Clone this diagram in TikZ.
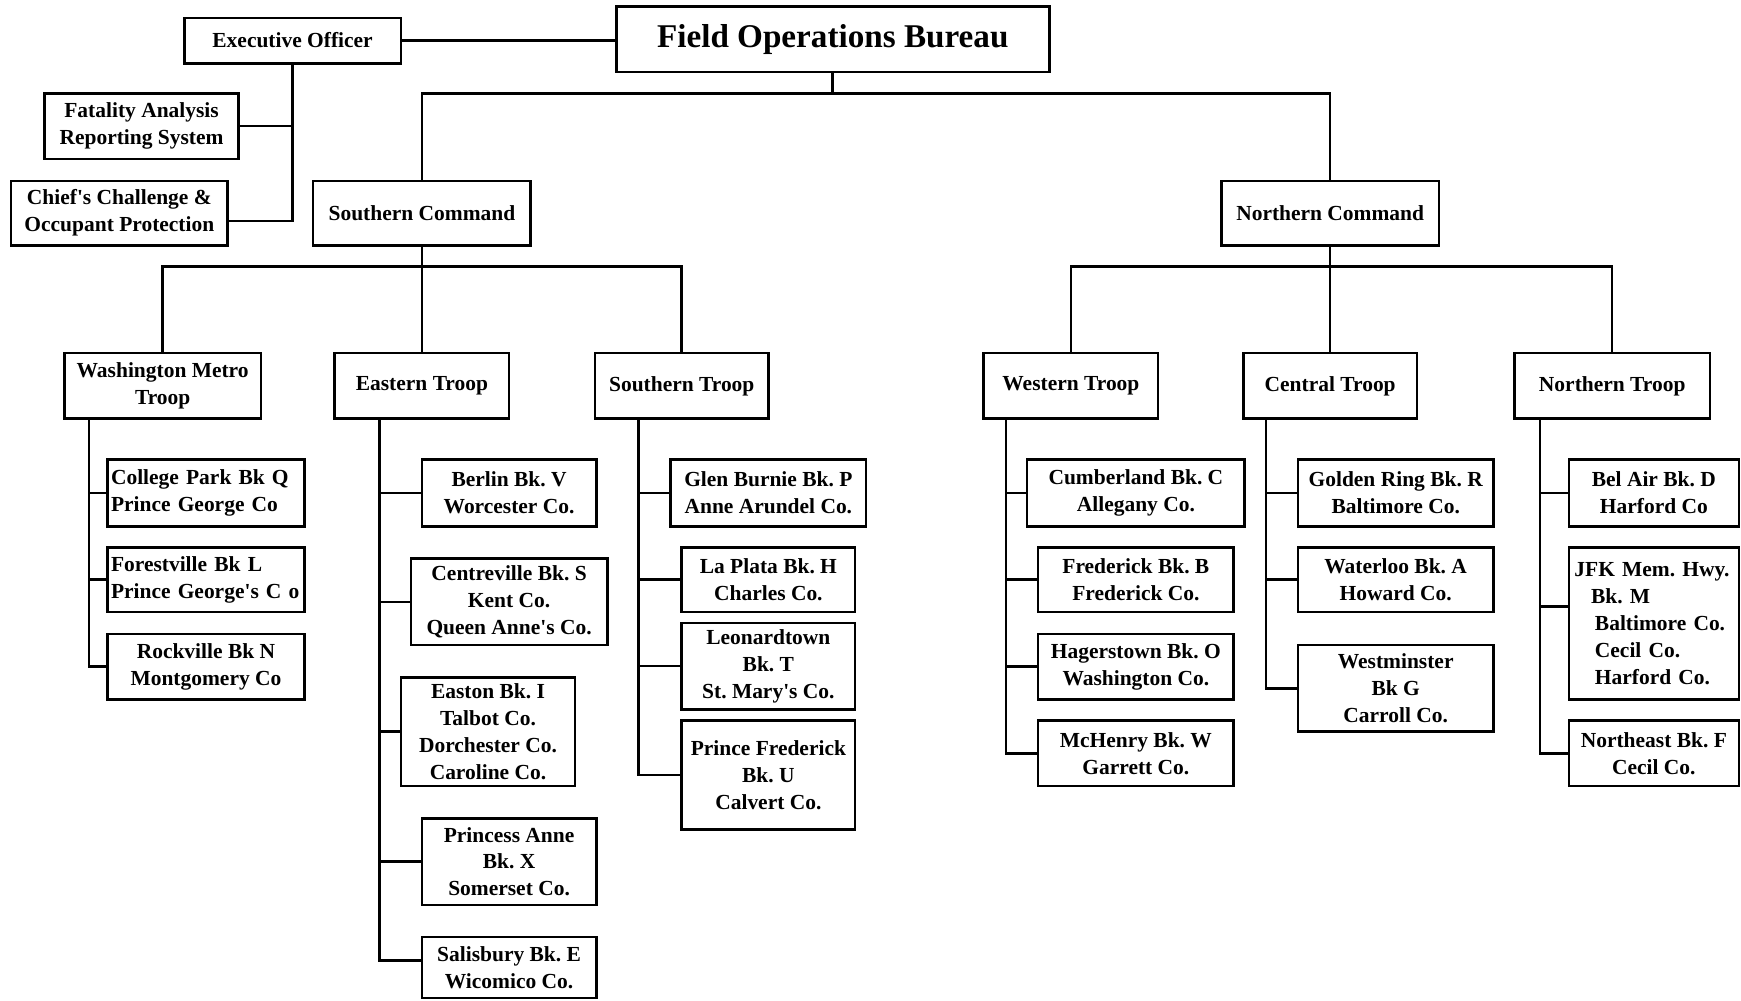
\documentclass[tikz,border=0pt]{standalone}
\usepackage{fontspec}
\setmainfont{Liberation Serif}
\usepackage{tikz}

\begin{document}
\frenchspacing
\begin{tikzpicture}[x=0.2mm,y=-0.2mm,
	unit/.style={draw,line width=1.3pt,align=center,inner xsep=1mm,inner ysep=0pt,
		font=\bfseries\fontsize{11}{13.8}\selectfont},
	two/.style={minimum height=11.8mm},
	three/.style={minimum height=15.6mm},
	four/.style={minimum height=19.6mm},
	link/.style={line width=1.3pt}]
\useasboundingbox (0,0) rectangle (1568,901.5);
%
\node[unit,minimum width=78mm,minimum height=11.8mm,font=\bfseries\fontsize{17}{20}\selectfont] (fob) at (750,35.5) {Field Operations Bureau};
\node[unit,minimum width=39mm,minimum height=8.2mm] (eo) at (263.5,36.5) {Executive Officer};
\node[unit,two,minimum width=35mm] (fars) at (127.5,113.5) {Fatality Analysis\\Reporting System};
\node[unit,minimum width=39mm,minimum height=11.6mm] (ccop) at (107.5,192) {Chief\textquotesingle s Challenge \&\\Occupant Protection};
\node[unit,minimum width=39.2mm,minimum height=11.6mm] (sc) at (380,192) {Southern Command};
\node[unit,minimum width=39.2mm,minimum height=11.6mm] (nc) at (1198,192) {Northern Command};
%
\node[unit,two,minimum width=35.4mm] (wm) at (146.5,347.5) {Washington Metro\\Troop};
\node[unit,two,minimum width=31.4mm] (et) at (380,347.5) {Eastern Troop};
\node[unit,two,minimum width=31.2mm] (st) at (614,347.5) {Southern Troop};
\node[unit,two,minimum width=31.4mm] (wt) at (964.5,347.5) {Western Troop};
\node[unit,two,minimum width=31.2mm] (ct) at (1198,347.5) {Central Troop};
\node[unit,two,minimum width=35.2mm] (nt) at (1452,347.5) {Northern Troop};
%
\node[unit,minimum height=12mm,inner xsep=0.6mm,text width=34.2mm,align=left] (cp) at (185.5,444) {College Park Bk Q\\Prince George Co};
\node[unit,minimum height=11.6mm,inner xsep=0.6mm,text width=34.2mm,align=left] (fv) at (185.5,522) {Forestville Bk L\\Prince George\textquotesingle s C o};
\node[unit,two,minimum width=35.4mm] (rv) at (185.5,600.5) {Rockville Bk N\\Montgomery Co};
%
\node[unit,minimum height=12mm,minimum width=31.4mm] (bln) at (458.5,444) {Berlin Bk. V\\Worcester Co.};
\node[unit,three,minimum width=35.4mm] (cen) at (458.5,542) {Centreville Bk. S\\Kent Co.\\Queen Anne\textquotesingle s Co.};
\node[unit,four,minimum width=31.4mm] (eas) at (439.5,659) {Easton Bk. I\\Talbot Co.\\Dorchester Co.\\Caroline Co.};
\node[unit,three,minimum width=31.4mm] (pan) at (458.5,776) {Princess Anne\\Bk. X\\Somerset Co.};
\node[unit,minimum height=11mm,minimum width=31.4mm] (sal) at (458.5,871.5) {Salisbury Bk. E\\Wicomico Co.};
%
\node[unit,minimum height=12mm,minimum width=35.2mm] (gb) at (692,444) {Glen Burnie Bk. P\\Anne Arundel Co.};
\node[unit,minimum height=11.6mm,minimum width=31.2mm] (lp) at (692,522) {La Plata Bk. H\\Charles Co.};
\node[unit,three,minimum width=31.2mm] (lt) at (692,600) {Leonardtown\\Bk. T\\St. Mary\textquotesingle s Co.};
\node[unit,four,minimum width=31.2mm] (pf) at (692,698) {Prince Frederick\\Bk. U\\Calvert Co.};
%
\node[unit,minimum height=12mm,minimum width=39.2mm] (cum) at (1023,444) {Cumberland Bk. C\\Allegany Co.};
\node[unit,minimum height=11.6mm,minimum width=35.2mm] (fre) at (1023,522) {Frederick Bk. B\\Frederick Co.};
\node[unit,two,minimum width=35.2mm] (hag) at (1023,600.5) {Hagerstown Bk. O\\Washington Co.};
\node[unit,two,minimum width=35.2mm] (mch) at (1023,678.5) {McHenry Bk. W\\Garrett Co.};
%
\node[unit,minimum height=12mm,minimum width=35.2mm] (gr) at (1257,444) {Golden Ring Bk. R\\Baltimore Co.};
\node[unit,minimum height=11.6mm,minimum width=35.2mm] (wat) at (1257,522) {Waterloo Bk. A\\Howard Co.};
\node[unit,three,minimum width=35.2mm] (wes) at (1257,620) {Westminster\\Bk G\\Carroll Co.};
%
\node[unit,minimum height=12mm,minimum width=30.6mm] (ba) at (1489.5,444) {Bel Air Bk. D\\Harford Co};
\node[unit,minimum height=27.4mm,text width=28.6mm,align=left] (jfk) at (1489.5,561.5) {JFK Mem. Hwy.\\\hspace*{8.5pt}Bk. M\\\hspace*{10.5pt}Baltimore Co.\\\hspace*{10.5pt}Cecil Co.\\\hspace*{10.5pt}Harford Co.};
\node[unit,two,minimum width=30.6mm] (ne) at (1489.5,678.5) {Northeast Bk. F\\Cecil Co.};
%
\coordinate (fobbar) at (750,84);
\coordinate (scbar) at (380,240);
\coordinate (ncbar) at (1198,240);
\coordinate (wmv) at (80,377);
\coordinate (etv) at (342,377);
\coordinate (stv) at (575,377);
\coordinate (wtv) at (906,377);
\coordinate (ctv) at (1140,377);
\coordinate (ntv) at (1387,377);
%
\draw[link] (eo) -- (eo -| fob.west);
\draw[link] (eo.south) |- (fars.east);
\draw[link] (eo.south) |- ([yshift=-1.4mm]ccop.east);
\draw[link] (fob.south) -- (fobbar);
\draw[link] (sc.north) |- (fobbar) -| (nc.north);
%
\draw[link] (sc.south) -- (et.north);
\draw[link] (wm.north) |- (scbar) -| (st.north);
\draw[link] (nc.south) -- (ct.north);
\draw[link] (wt.north) |- (ncbar) -| (nt.north);
%
\draw[link] (wmv) |- (cp.west);
\draw[link] (wmv) |- (fv.west);
\draw[link] (wmv) |- (rv.west);
\draw[link] (etv) |- (bln.west);
\draw[link] (etv) |- (cen.west);
\draw[link] (etv) |- (eas.west);
\draw[link] (etv) |- (pan.west);
\draw[link] (etv) |- ([yshift=1.3mm]sal.west);
\draw[link] (stv) |- (gb.west);
\draw[link] (stv) |- (lp.west);
\draw[link] (stv) |- (lt.west);
\draw[link] (stv) |- (pf.west);
\draw[link] (wtv) |- (cum.west);
\draw[link] (wtv) |- (fre.west);
\draw[link] (wtv) |- (hag.west);
\draw[link] (wtv) |- (mch.west);
\draw[link] (ctv) |- (gr.west);
\draw[link] (ctv) |- (wat.west);
\draw[link] (ctv) |- (wes.west);
\draw[link] (ntv) |- (ba.west);
\draw[link] (ntv) |- ([yshift=3.1mm]jfk.west);
\draw[link] (ntv) |- (ne.west);
\end{tikzpicture}
\end{document}
